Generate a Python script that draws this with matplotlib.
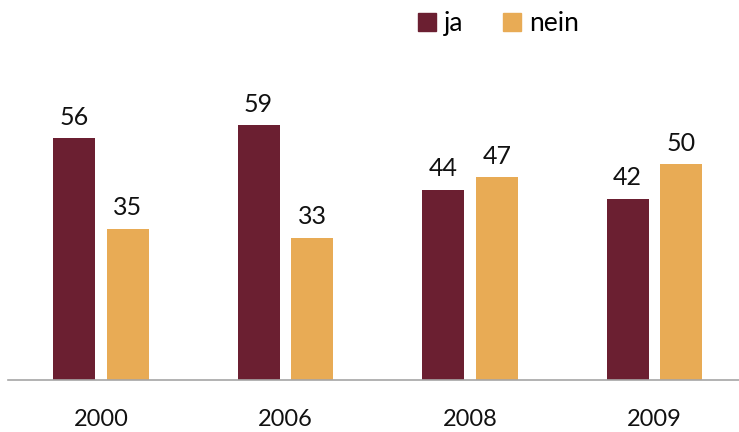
import matplotlib.pyplot as plt
import numpy as np
from matplotlib.lines import Line2D

plt.rcParams['font.family'] = ['Lato', 'DejaVu Sans']

years = ["2000", "2006", "2008", "2009"]
ja = [56, 59, 44, 42]
nein = [35, 33, 47, 50]

col_ja = "#6B1F31"
col_nein = "#E8AB55"

fig = plt.figure(figsize=(7.39, 4.32), dpi=100)
ax = fig.add_axes([8 / 739, 52 / 432, 1 - 8 / 739, 380 / 432])

x = np.arange(len(years))
w = 0.228
off = 0.146
b1 = ax.bar(x - off, ja, w, color=col_ja)
b2 = ax.bar(x + off, nein, w, color=col_nein)

for bars, vals in ((b1, ja), (b2, nein)):
    for r, v in zip(bars, vals):
        ax.text(r.get_x() + r.get_width() / 2, v + 2.2, str(v),
                ha="center", va="bottom", fontsize=18, color="#111111")

ax.set_xlim(-0.504, 3.458)
ax.set_ylim(0, 88)
ax.set_xticks(x)
ax.set_xticklabels(years, fontsize=17, color="#111111")
ax.tick_params(axis="x", length=0, pad=21)
ax.set_yticks([])
for s in ["top", "left", "right"]:
    ax.spines[s].set_visible(False)
ax.spines["bottom"].set_color("#A6A6A6")
ax.spines["bottom"].set_linewidth(1.2)

handles = [Line2D([], [], marker="s", linestyle="", markersize=12.5, color=col_ja),
           Line2D([], [], marker="s", linestyle="", markersize=12.5, color=col_nein)]
fig.legend(handles, ["ja", "nein"], loc="upper left", bbox_to_anchor=(394 / 739, 1.03),
           ncol=2, frameon=False, fontsize=19, handlelength=0.7, handletextpad=0.3,
           columnspacing=1.5)

fig.savefig("out.png", dpi=100)
